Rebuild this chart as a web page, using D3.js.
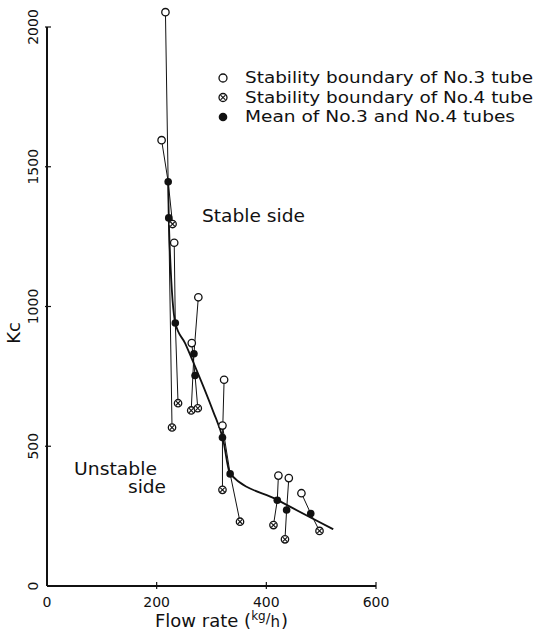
<!DOCTYPE html>
<html>
<head>
<meta charset="utf-8">
<script src="https://cdn.jsdelivr.net/npm/d3@7"></script>
<style>
  body { margin: 0; background: #fff; }
  svg text { font-family: "DejaVu Sans", sans-serif; fill: #111; }
</style>
</head>
<body>
<svg id="chart" width="537" height="635"></svg>
<script>
// data (flow rate kg/h, Kc)
var tube3X = [216, 209, 232, 276, 264, 323, 320, 422, 441, 464];
var tube3Y = [2053, 1595, 1228, 1033, 869, 738, 574, 395, 386, 332];
var tube4X = [228, 229, 239, 263, 275, 320, 352, 413, 434, 497];
var tube4Y = [567, 1295, 654, 628, 636, 344, 230, 218, 167, 197];
var meanX = [222, 221, 234, 268, 270, 320, 334, 420, 437, 481];
var meanY = [1317, 1446, 941, 831, 753, 531, 401, 307, 272, 259];
// hand drawn fitted curve through the means
var fitX = [221, 222, 234, 252, 268, 286, 303, 321, 334, 420, 522];
var fitY = [1446, 1317, 941, 868, 795, 710, 625, 525, 401, 308, 203];

var xTicks = [0, 200, 400, 600];
var yTicks = [0, 500, 1000, 1500, 2000];
var legendLabels = ["Stability boundary of No.3 tube",
                    "Stability boundary of No.4 tube",
                    "Mean of No.3 and No.4 tubes"];
var legendWidths = [288, 288, 270];

var svg = d3.select("#chart");

var x = d3.scaleLinear().domain([0, 600]).range([47, 376]),
    y = d3.scaleLinear().domain([0, 2000]).range([586, 27]);

// axes
var axes = svg.append("g").attr("stroke", "#111").attr("fill", "none");
axes.append("line")
    .attr("x1", x(0)).attr("x2", x(0))
    .attr("y1", y(2000)).attr("y2", y(0))
    .attr("stroke-width", 2);
axes.append("line")
    .attr("x1", x(0)).attr("x2", x(600))
    .attr("y1", y(0)).attr("y2", y(0))
    .attr("stroke-width", 2);

axes.selectAll(".xtick").data(xTicks.slice(1)).enter().append("line")
    .attr("x1", function(d) { return x(d); })
    .attr("x2", function(d) { return x(d); })
    .attr("y1", y(0) - 4).attr("y2", y(0) + 3)
    .attr("stroke-width", 1.2);
axes.selectAll(".ytick").data(yTicks.slice(1)).enter().append("line")
    .attr("x1", x(0) - 2).attr("x2", x(0) + 4)
    .attr("y1", function(d) { return y(d); })
    .attr("y2", function(d) { return y(d); })
    .attr("stroke-width", 1.2);

svg.selectAll(".xlabel").data(xTicks).enter().append("text")
    .attr("x", function(d) { return x(d); })
    .attr("y", 607)
    .attr("text-anchor", "middle")
    .attr("font-size", 14)
    .text(function(d) { return d; });

svg.selectAll(".ylabel").data(yTicks).enter().append("text")
    .attr("transform", function(d) { return "translate(38," + y(d) + ") rotate(-90)"; })
    .attr("text-anchor", "middle")
    .attr("font-size", 14)
    .text(function(d) { return d; });

svg.append("text")
    .attr("transform", "translate(20,333) rotate(-90)")
    .attr("text-anchor", "middle")
    .attr("font-size", 18)
    .text("Kc");

// x axis title, units written as kg/h with a raised kg
var xt = svg.append("text")
    .attr("x", 155).attr("y", 627)
    .attr("font-size", 18);
xt.append("tspan").text("Flow rate (");
xt.append("tspan").attr("font-size", 12).attr("dy", -7).text("kg");
xt.append("tspan").attr("font-size", 14).attr("dy", 3).text("/");
xt.append("tspan").attr("font-size", 15).attr("dy", 4).text("h");
xt.append("tspan").attr("dx", 1).text(")");

// pair lines: No.3 -> mean -> No.4
var line = d3.line().x(function(d) { return x(d[0]); }).y(function(d) { return y(d[1]); });
var pairs = tube3X.map(function(d, i) {
  return [[tube3X[i], tube3Y[i]], [meanX[i], meanY[i]], [tube4X[i], tube4Y[i]]];
});
svg.append("g").selectAll("path").data(pairs).enter().append("path")
    .attr("d", line)
    .attr("fill", "none").attr("stroke", "#111").attr("stroke-width", 1);

// fitted mean curve
var fitPts = fitX.map(function(d, i) { return [d, fitY[i]]; });
svg.append("path")
    .datum(fitPts)
    .attr("d", d3.line()
      .x(function(d) { return x(d[0]); })
      .y(function(d) { return y(d[1]); })
      .curve(d3.curveMonotoneX))
    .attr("fill", "none").attr("stroke", "#111").attr("stroke-width", 1.8);

// markers
function openCircle(g, cx, cy, r) {
  g.append("circle").attr("cx", cx).attr("cy", cy).attr("r", r)
   .attr("fill", "#fff").attr("stroke", "#111").attr("stroke-width", 1.3);
}
function crossCircle(g, cx, cy, r) {
  openCircle(g, cx, cy, r);
  var k = r * 0.62;
  g.append("path")
   .attr("d", "M" + (cx - k) + "," + (cy - k) + "L" + (cx + k) + "," + (cy + k) +
              "M" + (cx - k) + "," + (cy + k) + "L" + (cx + k) + "," + (cy - k))
   .attr("stroke", "#111").attr("stroke-width", 1.1);
}
function filledCircle(g, cx, cy, r) {
  g.append("circle").attr("cx", cx).attr("cy", cy).attr("r", r).attr("fill", "#111");
}

var marks = svg.append("g");
tube3X.forEach(function(d, i) { openCircle(marks, x(tube3X[i]), y(tube3Y[i]), 3.7); });
tube4X.forEach(function(d, i) { crossCircle(marks, x(tube4X[i]), y(tube4Y[i]), 3.7); });
meanX.forEach(function(d, i) { filledCircle(marks, x(meanX[i]), y(meanY[i]), 3.8); });

// legend
var legend = svg.append("g");
openCircle(legend, 223, 78, 4);
crossCircle(legend, 223, 97.5, 4);
filledCircle(legend, 223, 117, 4.3);
legend.selectAll("text").data(legendLabels).enter().append("text")
    .attr("x", 245)
    .attr("y", function(d, i) { return 83 + i * 19.5; })
    .attr("font-size", 16)
    .attr("textLength", function(d, i) { return legendWidths[i]; })
    .attr("lengthAdjust", "spacingAndGlyphs")
    .text(function(d) { return d; });

svg.append("text").attr("x", 202).attr("y", 222).attr("font-size", 18)
    .attr("textLength", 103).attr("lengthAdjust", "spacingAndGlyphs").text("Stable side");
svg.append("text").attr("x", 74).attr("y", 475).attr("font-size", 18)
    .attr("textLength", 83).attr("lengthAdjust", "spacingAndGlyphs").text("Unstable");
svg.append("text").attr("x", 128).attr("y", 493).attr("font-size", 18)
    .attr("textLength", 38).attr("lengthAdjust", "spacingAndGlyphs").text("side");
</script>
</body>
</html>
